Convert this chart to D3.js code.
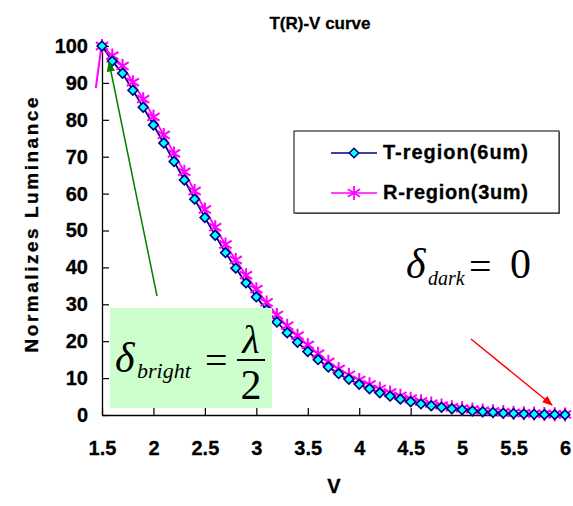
<!DOCTYPE html>
<html lang="en">
<meta charset="utf-8">
<script src="https://d3js.org/d3.v7.min.js"></script>
<style>
  body { margin: 0; background: #fff; }
  text { font-family: Arial, "Liberation Sans", sans-serif; }
  .math { font-family: "Times New Roman", "Liberation Serif", serif; }
</style>
<div id="my_dataviz"></div>
<script>

// voltage steps (V)
var volts = [1.5, 1.6, 1.7, 1.8, 1.9, 2.0, 2.1, 2.2, 2.3, 2.4,
             2.5, 2.6, 2.7, 2.8, 2.9, 3.0, 3.1, 3.2, 3.3, 3.4,
             3.5, 3.6, 3.7, 3.8, 3.9, 4.0, 4.1, 4.2, 4.3, 4.4,
             4.5, 4.6, 4.7, 4.8, 4.9, 5.0, 5.1, 5.2, 5.3, 5.4,
             5.5, 5.6, 5.7, 5.8, 5.9, 6.0];

// T-region(6um) luminance
var tRegion = [100, 95.9, 92.6, 88.0, 83.4, 78.6, 73.7, 68.7, 63.7, 58.5,
               53.5, 48.7, 44.0, 39.8, 35.8, 32.0, 28.5, 25.2, 22.3, 19.7,
               17.2, 15.0, 13.0, 11.2, 9.7, 8.3, 7.1, 6.0, 5.1, 4.3,
               3.6, 3.0, 2.5, 2.1, 1.7, 1.4, 1.1, 0.9, 0.7, 0.5,
               0.4, 0.3, 0.2, 0.15, 0.1, 0.05];

// R-region(3um) luminance
var rRegion = [100, 97.4, 94.6, 90.2, 85.6, 80.8, 75.9, 70.9, 65.9, 60.7,
               55.7, 50.9, 46.2, 42.0, 37.9, 34.1, 30.5, 27.1, 24.2, 21.5,
               19.0, 16.6, 14.4, 12.5, 10.9, 9.5, 8.3, 7.1, 6.1, 5.2,
               4.4, 3.7, 3.1, 2.6, 2.1, 1.8, 1.5, 1.2, 1.0, 0.8,
               0.6, 0.5, 0.4, 0.3, 0.2, 0.15];

var xTicks = [1.5, 2, 2.5, 3, 3.5, 4, 4.5, 5, 5.5, 6];
var yTicks = [0, 10, 20, 30, 40, 50, 60, 70, 80, 90, 100];

var W = 573, H = 506;

var svg = d3.select("#my_dataviz")
  .append("svg")
    .attr("width", W)
    .attr("height", H);

var x = d3.scaleLinear().domain([1.5, 6]).range([102, 565]);
var y = d3.scaleLinear().domain([0, 100]).range([415, 46]);

// title
svg.append("text")
  .attr("x", 320).attr("y", 29)
  .attr("text-anchor", "middle")
  .style("font-size", "17px").style("font-weight", "bold")
  .style("stroke", "#000").style("stroke-width", 0.3)
  .text("T(R)-V curve");

// axes
var xAxis = svg.append("g")
  .attr("transform", "translate(0," + y(0) + ")")
  .call(d3.axisBottom(x).tickValues(xTicks).tickFormat(function(d){ return String(d); })
        .tickSizeInner(-7).tickSizeOuter(0).tickPadding(26));
var yAxis = svg.append("g")
  .attr("transform", "translate(" + x(1.5) + ",0)")
  .call(d3.axisLeft(y).tickValues(yTicks).tickFormat(function(d){ return String(d); })
        .tickSizeInner(-7).tickSizeOuter(0).tickPadding(14));

[xAxis, yAxis].forEach(function(g) {
  g.select(".domain").attr("stroke", "#000").attr("stroke-width", 1.3);
  g.selectAll(".tick line").attr("stroke", "#000").attr("stroke-width", 1.2);
  g.selectAll(".tick text")
    .attr("fill", "#000")
    .style("font-family", "Arial, 'Liberation Sans', sans-serif")
    .style("font-size", "20px").style("font-weight", "bold")
    .style("stroke", "#000").style("stroke-width", 0.3);
});

// axis titles
svg.append("text")
  .attr("x", 334).attr("y", 493)
  .attr("text-anchor", "middle")
  .style("font-size", "20px").style("font-weight", "bold")
  .style("stroke", "#000").style("stroke-width", 0.3)
  .text("V");

svg.append("text")
  .attr("transform", "translate(38,225) rotate(-90)")
  .attr("text-anchor", "middle")
  .attr("textLength", 255).attr("lengthAdjust", "spacing")
  .style("font-size", "19px").style("font-weight", "bold")
  .style("stroke", "#000").style("stroke-width", 0.3)
  .text("Normalizes Luminance");

// stray magenta stroke left of the first point
svg.append("line")
  .attr("x1", x(1.44)).attr("y1", y(88.6))
  .attr("x2", x(1.49)).attr("y2", y(99))
  .attr("stroke", "#ff00ff").attr("stroke-width", 2);

// series
var line = d3.line().x(function(d){ return x(d[0]); }).y(function(d){ return y(d[1]); });
var tData = volts.map(function(v, i){ return [v, tRegion[i]]; });
var rData = volts.map(function(v, i){ return [v, rRegion[i]]; });

var starPath = "M0,-7L0,7M-6.1,-3.8L6.1,3.8M-6.1,3.8L6.1,-3.8";
var diamondPath = "M0,-4.8L4.8,0L0,4.8L-4.8,0Z";

svg.append("path").datum(rData)
  .attr("d", line).attr("fill", "none")
  .attr("stroke", "#ff00ff").attr("stroke-width", 1.8);
svg.append("path").datum(tData)
  .attr("d", line).attr("fill", "none")
  .attr("stroke", "#000080").attr("stroke-width", 1.8);

svg.selectAll(".rstar").data(rData).enter()
  .append("path").attr("class", "rstar")
  .attr("transform", function(d){ return "translate(" + x(d[0]) + "," + y(d[1]) + ")"; })
  .attr("d", starPath)
  .attr("stroke", "#ff00ff").attr("stroke-width", 2).attr("fill", "none");

svg.selectAll(".tdia").data(tData).enter()
  .append("path").attr("class", "tdia")
  .attr("transform", function(d){ return "translate(" + x(d[0]) + "," + y(d[1]) + ")"; })
  .attr("d", diamondPath)
  .attr("fill", "#00ffff").attr("stroke", "#000080").attr("stroke-width", 1.6);

// legend
var lg = svg.append("g");
lg.append("rect").attr("x", 295).attr("y", 132).attr("width", 265).attr("height", 82)
  .attr("fill", "#888");
lg.append("rect").attr("x", 294).attr("y", 131).attr("width", 265).attr("height", 82)
  .attr("fill", "#fff").attr("stroke", "#000").attr("stroke-width", 1);

var legendItems = [
  {label: "T-region(6um)", color: "#000080", shape: "diamond", cy: 153},
  {label: "R-region(3um)", color: "#ff00ff", shape: "star", cy: 193}
];
legendItems.forEach(function(it) {
  lg.append("line").attr("x1", 331).attr("x2", 377).attr("y1", it.cy).attr("y2", it.cy)
    .attr("stroke", it.color).attr("stroke-width", 1.5);
  if (it.shape === "diamond") {
    lg.append("path").attr("transform", "translate(354," + it.cy + ")")
      .attr("d", diamondPath).attr("fill", "#00ffff").attr("stroke", "#000080").attr("stroke-width", 1.5);
  } else {
    lg.append("path").attr("transform", "translate(354," + it.cy + ")")
      .attr("d", starPath).attr("fill", "none").attr("stroke", "#ff00ff").attr("stroke-width", 1.8);
  }
  lg.append("text").attr("x", 383).attr("y", it.cy + 6)
    .attr("textLength", 145).attr("lengthAdjust", "spacing")
    .style("font-size", "20px").style("font-weight", "bold")
    .style("stroke", "#000").style("stroke-width", 0.3)
    .text(it.label);
});

// delta_bright = lambda / 2 box
svg.append("rect").attr("x", 110).attr("y", 308).attr("width", 162).attr("height", 100)
  .attr("fill", "#ccffcc");
var fb = svg.append("g");
fb.append("text").attr("class", "math").attr("x", 115).attr("y", 372)
  .style("font-size", "42px").style("font-style", "italic").text("\u03b4");
fb.append("text").attr("class", "math").attr("x", 137).attr("y", 378)
  .style("font-size", "22px").style("font-style", "italic").text("bright");
fb.append("text").attr("class", "math").attr("x", 205).attr("y", 374)
  .style("font-size", "40px").text("=");
fb.append("text").attr("class", "math").attr("x", 251).attr("y", 353)
  .attr("text-anchor", "middle")
  .style("font-size", "40px").style("font-style", "italic").text("\u03bb");
fb.append("line").attr("x1", 237).attr("x2", 265).attr("y1", 360).attr("y2", 360)
  .attr("stroke", "#000").attr("stroke-width", 2);
fb.append("text").attr("class", "math").attr("x", 251).attr("y", 399)
  .attr("text-anchor", "middle")
  .style("font-size", "42px").text("2");

// delta_dark = 0
var fd = svg.append("g");
fd.append("text").attr("class", "math").attr("x", 406).attr("y", 278)
  .style("font-size", "42px").style("font-style", "italic").text("\u03b4");
fd.append("text").attr("class", "math").attr("x", 428).attr("y", 285)
  .style("font-size", "20px").style("font-style", "italic").text("dark");
fd.append("text").attr("class", "math").attr("x", 469).attr("y", 280)
  .style("font-size", "40px").text("=");
fd.append("text").attr("class", "math").attr("x", 510).attr("y", 278)
  .style("font-size", "42px").text("0");

// arrows
var defs = svg.append("defs");
[["ag", "#008000"], ["ar", "#ff0000"]].forEach(function(m) {
  defs.append("marker").attr("id", m[0])
    .attr("viewBox", "0 0 10 10").attr("refX", 9).attr("refY", 5)
    .attr("markerWidth", 7).attr("markerHeight", 7).attr("orient", "auto")
    .append("path").attr("d", "M0,1L10,5L0,9Z").attr("fill", m[1]);
});
svg.append("line").attr("x1", 157).attr("y1", 296).attr("x2", 109).attr("y2", 62)
  .attr("stroke", "#008000").attr("stroke-width", 1.5).attr("marker-end", "url(#ag)");
svg.append("line").attr("x1", 471).attr("y1", 339).attr("x2", 552).attr("y2", 405)
  .attr("stroke", "#ff0000").attr("stroke-width", 1.5).attr("marker-end", "url(#ar)");

</script>
</html>
